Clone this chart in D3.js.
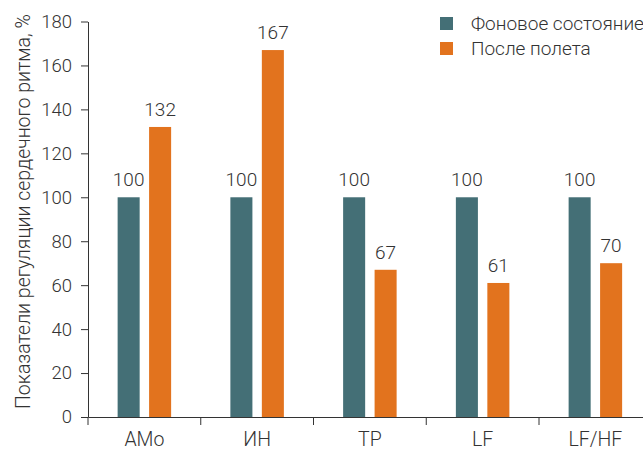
<!DOCTYPE html>
<html>
<head>
<meta charset="utf-8">
<script src="https://cdn.jsdelivr.net/npm/d3@7"></script>
<style>
  html, body { margin: 0; padding: 0; background: #fff; }
  svg { display: block; }
  text { font-family: "Roboto", "Liberation Sans", sans-serif; font-weight: 300; fill: #333; }
</style>
</head>
<body>
<svg id="chart" width="643" height="450"></svg>
<script>
// Heart-rate regulation indices, % of baseline
const categories = ["AMo", "ИН", "TP", "LF", "LF/HF"];
const seriesNames = ["Фоновое состояние", "После полета"];
const baseline = [100, 100, 100, 100, 100];
const afterFlight = [132, 167, 67, 61, 70];
const yTicks = [0, 20, 40, 60, 80, 100, 120, 140, 160, 180];
const colors = ["#446f76", "#e2731e"];
const yTitle = "Показатели регуляции сердечного ритма, %";

const svg = d3.select("#chart");
const margin = { left: 88, top: 21.5, bottom: 417 };
const plotRight = 651.75;

const x = d3.scaleBand().domain(categories).range([margin.left, plotRight]).padding(0);
const bw = x.bandwidth();
const xs = d3.scaleBand().domain(seriesNames)
  .range([bw / 2 - 26.75, bw / 2 + 26.75]).paddingInner(0.3).paddingOuter(0);
const y = d3.scaleLinear().domain([0, 180]).range([margin.bottom, margin.top]);

const rows = categories.map((c, i) => ({ cat: c, vals: [baseline[i], afterFlight[i]] }));

// bars
const groups = svg.append("g").selectAll("g").data(rows).join("g")
  .attr("transform", d => `translate(${x(d.cat)},0)`);
groups.selectAll("rect").data(d => d.vals.map((v, j) => ({ v, s: seriesNames[j], j })))
  .join("rect")
  .attr("x", d => xs(d.s))
  .attr("width", xs.bandwidth())
  .attr("y", d => y(d.v))
  .attr("height", d => y(0) - y(d.v))
  .attr("fill", d => colors[d.j]);

// value labels
groups.selectAll("text.val").data(d => d.vals.map((v, j) => ({ v, s: seriesNames[j], j })))
  .join("text").attr("class", "val")
  .attr("x", d => xs(d.s) + xs.bandwidth() / 2)
  .attr("y", d => y(d.v) - 11)
  .attr("text-anchor", "middle")
  .style("font-size", "19px")
  .text(d => d.v);

// y axis
const yAxis = svg.append("g").attr("transform", `translate(${margin.left},0)`)
  .call(d3.axisLeft(y).tickValues(yTicks).tickSize(7).tickSizeOuter(0).tickPadding(9));
yAxis.selectAll("text").style("font-size", "18.5px").attr("fill", "#333");
yAxis.selectAll("line, path").attr("stroke", "#333");

// x axis
const xAxis = svg.append("g").attr("transform", `translate(0,${margin.bottom})`)
  .call(d3.axisBottom(x).tickSize(0).tickPadding(0));
xAxis.select("path").attr("stroke", "#333");
xAxis.selectAll("text").style("font-size", "19.5px").attr("fill", "#333")
  .attr("y", 29).attr("dy", 0);
// ticks on band boundaries
xAxis.selectAll("line.bound").data(categories).join("line").attr("class", "bound")
  .attr("x1", d => x(d)).attr("x2", d => x(d))
  .attr("y1", 0).attr("y2", 8).attr("stroke", "#333");

// y axis title
svg.append("text")
  .attr("transform", "translate(30,211.5) rotate(-90)")
  .attr("text-anchor", "middle")
  .style("font-size", "19.5px")
  .text(yTitle);

// legend
const legend = svg.append("g").selectAll("g").data(seriesNames).join("g")
  .attr("transform", (d, i) => `translate(440,${17 + i * 25})`);
legend.append("rect").attr("width", 13).attr("height", 13).attr("fill", (d, i) => colors[i]);
legend.append("text").attr("x", 31).attr("y", 13).style("font-size", "19px").text(d => d);
</script>
</body>
</html>
